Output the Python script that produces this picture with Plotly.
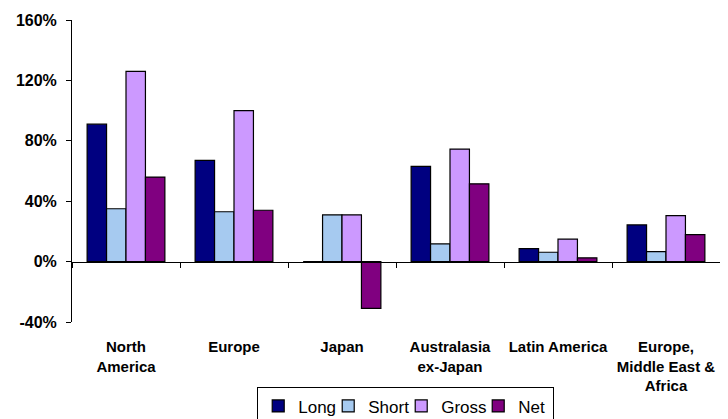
import plotly.graph_objects as go

categories = ["North<br>America", "Europe", "Japan", "Australasia<br>ex-Japan",
              "Latin America", "Europe,<br>Middle East &<br>Africa"]
long_vals = [0.91, 0.67, 0.0, 0.63, 0.086, 0.243]
short_vals = [0.35, 0.33, 0.31, 0.117, 0.062, 0.066]
gross_vals = [1.26, 1.00, 0.31, 0.745, 0.149, 0.305]
net_vals = [0.56, 0.34, -0.31, 0.515, 0.025, 0.179]

series_names = ["Long", "Short", "Gross", "Net"]
series_vals = [long_vals, short_vals, gross_vals, net_vals]
series_colors = ["#000080", "#A6CAF0", "#CC99FF", "#800080"]
legend_widths = [25, 28, 32, 30]  # px, legend entry text slots

y_ticks = [-0.4, 0.0, 0.4, 0.8, 1.2, 1.6]
y_tick_labels = ["-40%", "0%", "40%", "80%", "120%", "160%"]

fig = go.Figure()
for name, vals, col, lw in zip(series_names, series_vals, series_colors, legend_widths):
    fig.add_trace(go.Bar(
        x=categories, y=vals, name=name, legendwidth=lw,
        marker=dict(color=col, line=dict(color="#000000", width=1.2)),
    ))

# invisible trace to carry the zero-line axis
fig.add_trace(go.Scatter(x=categories, y=[0] * len(categories), xaxis="x2",
                         mode="none", showlegend=False, hoverinfo="skip"))

font_family = "Liberation Sans, Arial, sans-serif"

# the page body has an 8px margin, so the figure is sized 8px smaller
fig.update_layout(
    template="none",
    width=720, height=411,
    margin=dict(l=64, r=8, t=12, b=97, autoexpand=False),
    paper_bgcolor="white", plot_bgcolor="white",
    barmode="group", bargap=0.28, bargroupgap=0,
    font=dict(family=font_family, color="#000000"),
    showlegend=True,
    legend=dict(
        orientation="h", x=0.515, xanchor="center", y=-0.2165, yanchor="top",
        font=dict(size=17, family=font_family, color="#000000"),
        bordercolor="#000000", borderwidth=1, bgcolor="white",
        itemwidth=30, tracegroupgap=0, itemclick=False,
    ),
    xaxis=dict(
        type="category", showline=False, ticks="", showgrid=False,
        automargin=False,
        tickfont=dict(size=15, family=font_family, color="#000000", weight="bold"),
        ticklabelstandoff=14,
    ),
    xaxis2=dict(
        type="category", overlaying="x", matches="x", anchor="free", position=0.2,
        side="bottom", automargin=False,
        showline=True, linecolor="#000000", linewidth=1,
        ticks="outside", ticklen=5, tickcolor="#000000", tickwidth=1,
        tickson="boundaries", showticklabels=False, showgrid=False,
    ),
    yaxis=dict(
        range=[-0.4, 1.6], tickvals=y_ticks, ticktext=y_tick_labels,
        showline=True, linecolor="#000000", linewidth=1,
        ticks="outside", ticklen=5, tickcolor="#000000", tickwidth=1,
        showgrid=False, zeroline=False, automargin=False,
        tickfont=dict(size=16, family=font_family, color="#000000", weight="bold"),
        ticklabelstandoff=6,
    ),
)

fig.write_html("out.html")
